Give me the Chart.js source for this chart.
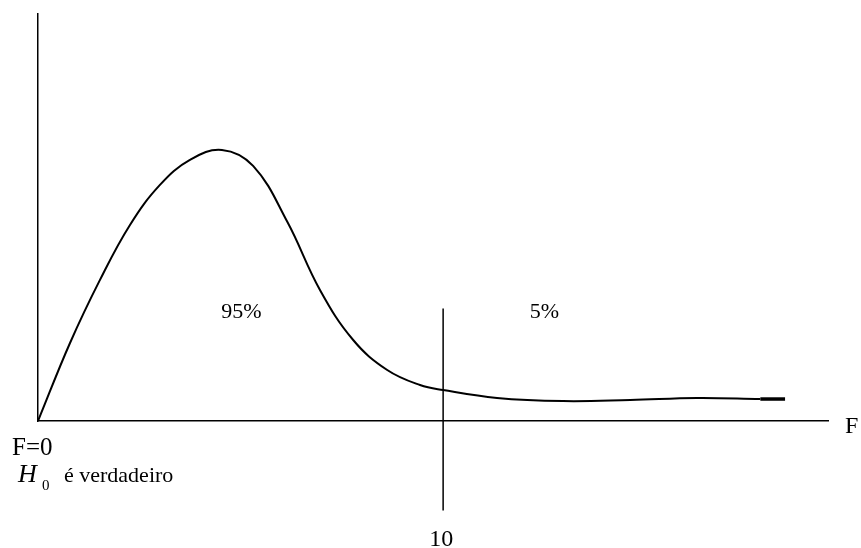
<!DOCTYPE html>
<html>
<head>
<meta charset="utf-8">
<script src="https://cdn.jsdelivr.net/npm/chart.js@4.4.1/dist/chart.umd.min.js"></script>
<style>
  body { margin: 0; background: #fff; }
  #wrap { width: 861px; height: 548px; }
</style>
</head>
<body>
<div id="wrap"><canvas id="grafico" width="861" height="548"></canvas></div>
<script>
// curva F (densidade)
const curvaX = [0, 0.79, 1.53, 2.27, 3.01, 3.75, 4.54, 5.31, 6.15, 6.96, 7.78, 8.62, 9.43, 10, 11.33, 12.96, 14.62, 16.27, 17.83];
const curvaY = [0, 0.0575, 0.104, 0.1445, 0.174, 0.1924, 0.1998, 0.188, 0.147, 0.0966, 0.0597, 0.0376, 0.0265, 0.0228, 0.017, 0.0147, 0.0155, 0.017, 0.0162];
// tracinho grosso no fim da curva
const fimX = [17.83, 18.44];
const fimY = [0.0162, 0.0162];
// linha do valor critico
const critX = [10, 10];
const critY = [-0.066, 0.083];
const valorCritico = '10';
const rotuloAceita = '95%';
const rotuloRejeita = '5%';

const pares = (xs, ys) => xs.map((x, i) => ({ x: x, y: ys[i] }));

const textos = {
    id: 'textos',
    afterDraw(chart) {
        const ctx = chart.ctx;
        const sx = chart.scales.x, sy = chart.scales.y;
        ctx.save();
        ctx.fillStyle = '#000';
        ctx.textBaseline = 'alphabetic';

        ctx.font = '22px "Liberation Serif"';
        ctx.textAlign = 'center';
        ctx.fillText(rotuloAceita, sx.getPixelForValue(5.02), sy.getPixelForValue(0.076));
        ctx.fillText(rotuloRejeita, sx.getPixelForValue(12.5), sy.getPixelForValue(0.076));

        ctx.font = '24px "Liberation Serif"';
        ctx.fillText(valorCritico, sx.getPixelForValue(10) - 2, 546);

        ctx.textAlign = 'left';
        ctx.fillText('F', sx.right + 17, sy.bottom + 12);
        ctx.font = '25px "Liberation Serif"';
        ctx.fillText('F=0', 12, 455);

        ctx.font = 'italic 26px "Liberation Serif"';
        ctx.fillText('H', 18, 482);
        ctx.font = '15px "Liberation Serif"';
        ctx.fillText('0', 42, 490);
        ctx.font = '22px "Liberation Serif"';
        ctx.fillText('é verdadeiro', 64, 482);
        ctx.restore();
    }
};

new Chart(document.getElementById('grafico'), {
    type: 'line',
    data: {
        datasets: [
            {
                data: pares(curvaX, curvaY),
                borderColor: '#000',
                borderWidth: 2,
                pointRadius: 0,
                tension: 0.4
            },
            {
                data: pares(fimX, fimY),
                borderColor: '#000',
                borderWidth: 3.5,
                pointRadius: 0
            },
            {
                data: pares(critX, critY),
                borderColor: '#000',
                borderWidth: 1.5,
                pointRadius: 0,
                clip: false
            }
        ]
    },
    options: {
        responsive: false,
        animation: false,
        layout: { padding: { left: 38, right: 33, top: 14, bottom: 127 } },
        plugins: {
            legend: { display: false },
            tooltip: { enabled: false }
        },
        scales: {
            x: {
                type: 'linear',
                min: 0,
                max: 19.5,
                ticks: { display: false },
                grid: { display: false, drawTicks: false },
                border: { display: true, color: '#000', width: 1.5 }
            },
            y: {
                min: 0,
                max: 0.3,
                ticks: { display: false },
                grid: { display: false, drawTicks: false },
                border: { display: true, color: '#000', width: 1.5 }
            }
        }
    },
    plugins: [textos]
});
</script>
</body>
</html>
